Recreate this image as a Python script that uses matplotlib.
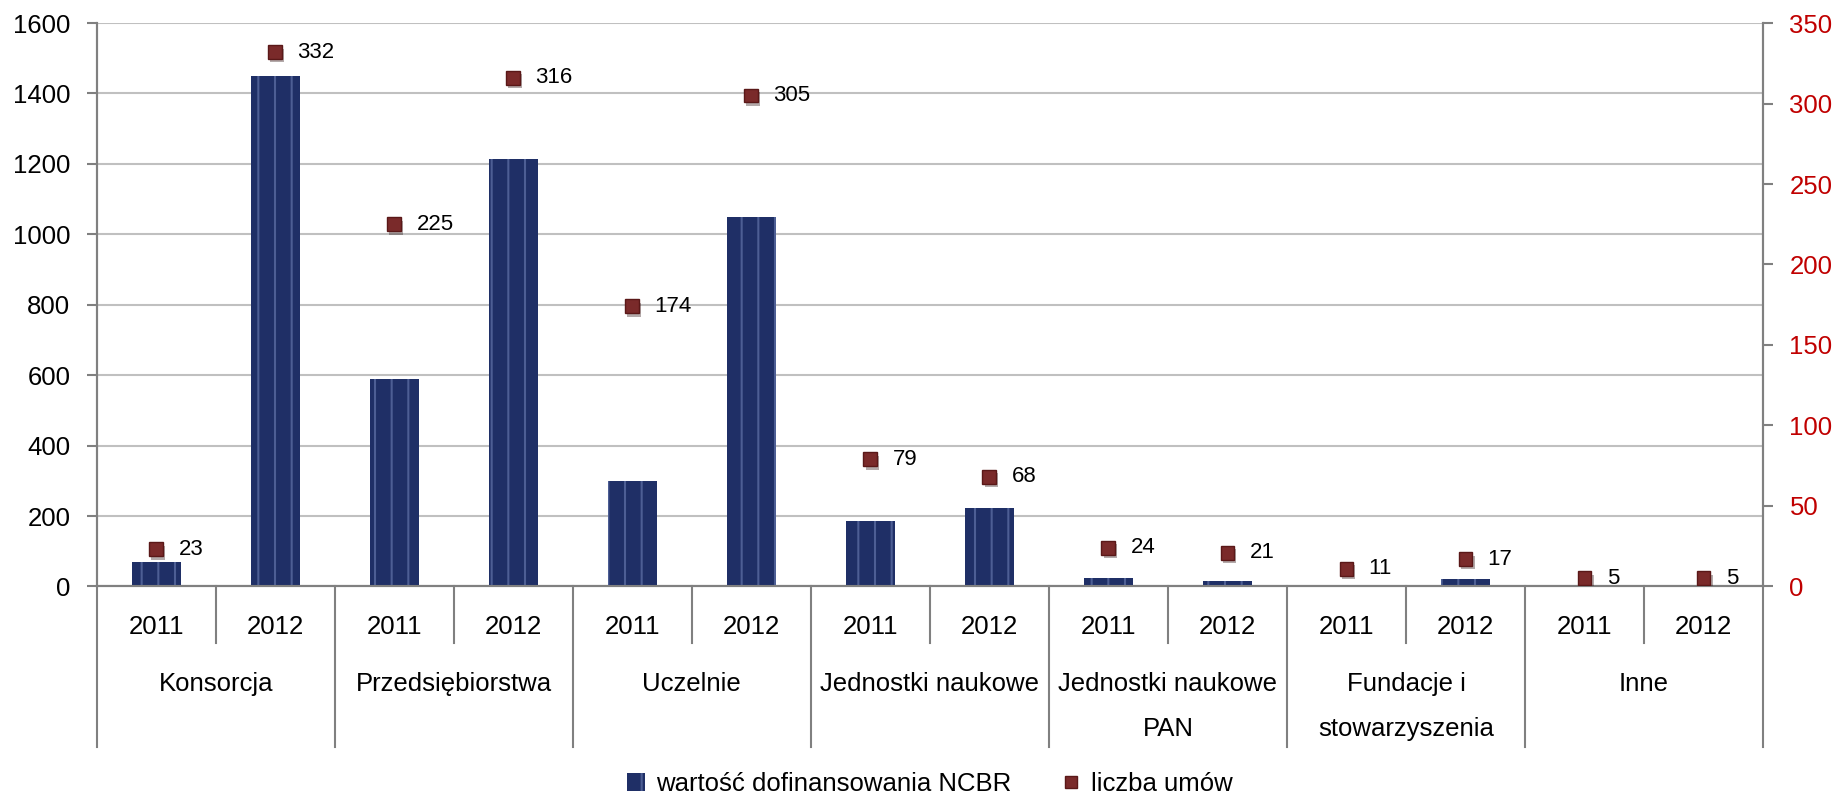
import matplotlib
matplotlib.use("Agg")
from matplotlib import pyplot as plt
from matplotlib.lines import Line2D
from matplotlib.patches import Patch
import matplotlib.patheffects as pe
import matplotlib.transforms as mtransforms

plt.rcParams['font.family'] = ['Liberation Sans', 'DejaVu Sans']
plt.rcParams['hatch.linewidth'] = 1.5

# dane
grupy = ["Konsorcja", "Przedsiębiorstwa", "Uczelnie", "Jednostki naukowe",
         "Jednostki naukowe\nPAN", "Fundacje i\nstowarzyszenia", "Inne"]
lata = ["2011", "2012"]
wartosc = [70, 1450, 590, 1215, 300, 1050, 185, 223, 25, 16, 5, 21, 1, 1]
umowy = [23, 332, 225, 316, 174, 305, 79, 68, 24, 21, 11, 17, 5, 5]

granat = "#1F2F66"
paski = "#4D5E94"
bordo = "#7A2A2A"
szary = "#808080"
rozmiar = 18.5

fig = plt.figure(figsize=(18.39, 7.97), dpi=100)
ax = fig.add_axes([0.0526, 0.2642, 0.9061, 0.7069])
ax2 = ax.twinx()

x = list(range(len(wartosc)))

ax.bar(x, wartosc, width=0.41, color=granat, edgecolor=paski, linewidth=0,
       hatch='|', zorder=3)

ax2.plot(x, umowy, linestyle='none', marker='s', markersize=10,
         markerfacecolor=bordo, markeredgecolor="#5A1818", markeredgewidth=1,
         zorder=5,
         path_effects=[pe.SimplePatchShadow(offset=(1.5, -2.5), alpha=0.35),
                       pe.Normal()])
for xi, u in zip(x, umowy):
    ax2.annotate(str(u), (xi, u), xytext=(16, 0), textcoords='offset points',
                 va='center', ha='left', fontsize=16, color='black')

ax.set_xlim(-0.5, len(wartosc) - 0.5)
ax.set_ylim(0, 1600)
ax.set_yticks(range(0, 1601, 200))
ax2.set_ylim(0, 350)
ax2.set_yticks(range(0, 351, 50))

ax.yaxis.grid(True, color="#C0C0C0", linewidth=1.5, zorder=0)
ax.set_axisbelow(True)

for a in (ax, ax2):
    for s in a.spines.values():
        s.set_color(szary)
        s.set_linewidth(1.5)
    a.spines['top'].set_visible(False)

ax.tick_params(axis='y', direction='out', length=7, width=1.5, color=szary,
               labelsize=rozmiar, labelcolor='black', pad=12)
ax2.tick_params(axis='y', direction='out', length=7, width=1.5, color=szary,
                labelsize=rozmiar, labelcolor="#C00000", pad=12)
ax.tick_params(axis='x', length=0, labelbottom=False)

# os kategorii w dwoch poziomach
trans = mtransforms.blended_transform_factory(ax.transData, ax.transAxes)
for i, xi in enumerate(x):
    ax.text(xi, -0.072, lata[i % 2], transform=trans, ha='center', va='center',
            fontsize=rozmiar)
for g, nazwa in enumerate(grupy):
    ax.text(2 * g + 0.5, -0.152, nazwa, transform=trans, ha='center', va='top',
            fontsize=rozmiar, linespacing=2.1)

for g in range(len(grupy)):
    xs = 2 * g + 0.5
    ax.add_line(Line2D([xs, xs], [0, -0.100], transform=trans, color=szary,
                       linewidth=1.5, clip_on=False))
for g in range(len(grupy) + 1):
    xs = 2 * g - 0.5
    ax.add_line(Line2D([xs, xs], [0, -0.285], transform=trans, color=szary,
                       linewidth=1.5, clip_on=False))

uchwyty = [Patch(facecolor=granat, edgecolor=paski, linewidth=0, hatch='|'),
           Line2D([], [], linestyle='none', marker='s', markersize=9,
                  markerfacecolor=bordo, markeredgecolor="#5A1818")]
ax.legend(uchwyty, ["wartość dofinansowania NCBR", "liczba umów"],
          loc='center', bbox_to_anchor=(0.5, -0.351), ncol=2, frameon=False,
          fontsize=rozmiar, handlelength=0.7, handleheight=0.7,
          handletextpad=0.4, columnspacing=2.0)

fig.savefig("out.png", dpi=100)
